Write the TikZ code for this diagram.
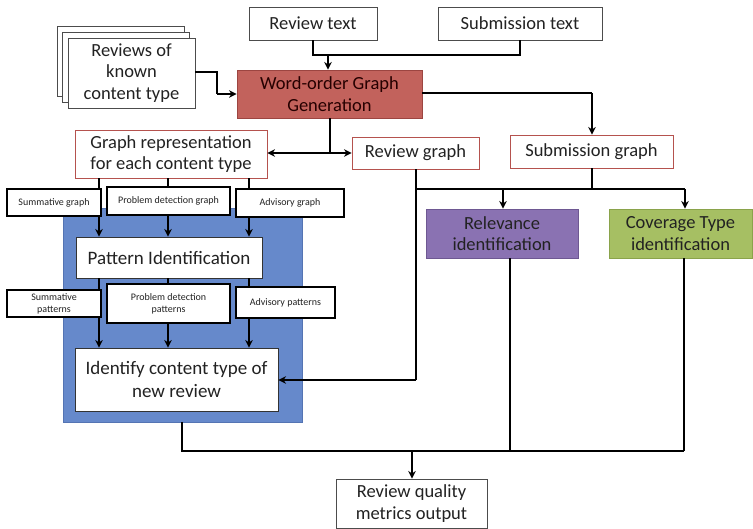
\documentclass[tikz,border=0pt]{standalone}
\usepackage{fontspec}
\setmainfont{Carlito}
\usetikzlibrary{arrows.meta}

\definecolor{wogfill}{HTML}{C2625C}
\definecolor{wogdraw}{HTML}{9C4541}
\definecolor{redline}{HTML}{B5524E}
\definecolor{relfill}{HTML}{8A72B2}
\definecolor{reldraw}{HTML}{6E5892}
\definecolor{covfill}{HTML}{A6BF63}
\definecolor{covdraw}{HTML}{8AA34B}
\definecolor{bluefill}{HTML}{6689CB}
\definecolor{bluedraw}{HTML}{5474B3}
\definecolor{inktext}{HTML}{222222}

\tikzset{
  box/.style={draw=black!70, line width=0.9pt, fill=white, align=center,
    inner sep=0pt, text=inktext, font=\fontsize{18.5}{21.5}\selectfont},
  redbox/.style={box, draw=redline},
  smallbox/.style={box, draw=black, line width=1.4pt,
    font=\fontsize{10}{12}\selectfont},
  conn/.style={line width=1.7pt, black},
  arr/.style={conn, -{Stealth[length=7.5pt,width=7.5pt]}},
  twoarr/.style={conn, {Stealth[length=7.5pt,width=7.5pt]}-{Stealth[length=7.5pt,width=7.5pt]}},
}

\begin{document}
\begin{tikzpicture}[x=1pt, y=-1pt]
\useasboundingbox (0,0) rectangle (753,529);

% shaded block holding the content-type steps
\fill[bluefill] (63,208) rectangle (302,422);
\draw[bluedraw, line width=0.6pt] (63,208) rectangle (302,422);
\coordinate (blueS) at (182,422);

% input texts
\node[box, minimum width=128pt, minimum height=33pt] (revtext) at (313,23.5) {Review text};
\node[box, minimum width=164pt, minimum height=33pt] (subtext) at (520,23.5) {Submission text};

% stacked pages of known reviews
\node[box, minimum width=127pt, minimum height=70pt] (rev3) at (120.5,61) {};
\node[box, minimum width=127pt, minimum height=70pt] (rev2) at (126,67) {};
\node[box, minimum width=127pt, minimum height=70pt] (reviews) at (131.5,73) {Reviews of\\known\\content type};

% graph generation
\node[box, draw=wogdraw, fill=wogfill, text=black!85!red, minimum width=185pt, minimum height=48pt] (wog) at (329.5,94) {Word-order Graph\\Generation};

\node[redbox, minimum width=192pt, minimum height=48pt] (graphrep) at (171,154) {Graph representation\\for each content type};
\node[redbox, minimum width=127pt, minimum height=32pt] (revgraph) at (415.5,153) {Review graph};
\node[redbox, minimum width=163pt, minimum height=33pt] (subgraph) at (591.5,151.5) {Submission graph};

\node[box, draw=reldraw, fill=relfill, minimum width=152pt, minimum height=49pt] (relev) at (502,233.5) {Relevance\\identification};
\node[box, draw=covdraw, fill=covfill, minimum width=143pt, minimum height=49pt] (cover) at (680.5,233.5) {Coverage Type\\identification};

\node[box, draw=black!80, minimum width=186pt, minimum height=41pt, font=\fontsize{19}{22}\selectfont] (pattern) at (169,257.5) {Pattern Identification};
\node[box, draw=black!80, minimum width=203pt, minimum height=63pt, font=\fontsize{19}{23}\selectfont] (identify) at (176.5,379.5) {Identify content type of\\new review};
\node[box, minimum width=151pt, minimum height=49pt] (quality) at (411.5,503.5) {Review quality\\metrics output};

% guide columns for the three content types
\coordinate (ca) at (99,0);
\coordinate (cb) at (168,0);
\coordinate (cc) at (249,0);

% content-type columns (drawn under the small boxes)
\foreach \c in {ca,cb,cc} {
  \draw[arr] (graphrep.south -| \c) -- (pattern.north -| \c);
  \draw[arr] (pattern.south -| \c) -- (identify.north -| \c);
}

\node[smallbox, minimum width=94pt, minimum height=27pt] (sumg) at (54,202.5) {Summative graph};
\node[smallbox, minimum width=123pt, minimum height=28pt] (probg) at (168.5,201) {Problem detection graph};
\node[smallbox, minimum width=108pt, minimum height=28pt] (advg) at (290,203) {Advisory graph};
\node[smallbox, minimum width=94pt, minimum height=27pt] (sump) at (54,303.5) {Summative\\patterns};
\node[smallbox, minimum width=123pt, minimum height=39pt] (probp) at (168.5,303.5) {Problem detection\\patterns};
\node[smallbox, minimum width=99pt, minimum height=31pt] (advp) at (285.5,302.5) {Advisory patterns};

% texts into graph generation
\coordinate (tj) at (313,55);
\coordinate (sj) at (520,55);
\coordinate (wj) at (328,55);
\draw[conn] (revtext.south -| tj) -- (tj) -- (sj) -- (subtext.south -| sj);
\draw[arr] (wj) -- (wog.north -| wj);

\coordinate (rk) at (217,72);
\draw[conn] (reviews.east |- rk) -- (rk) -- (rk |- wog.west);
\draw[arr] (rk |- wog.west) -- (wog.west);

% graph generation outputs
\coordinate (wd) at (330,153);
\draw[conn] (wog.south -| wd) -- (wd);
\draw[twoarr] (graphrep.east |- wd) -- (revgraph.west |- wd);
\coordinate (we) at (592,93);
\draw[conn] (wog.east |- we) -- (we);
\draw[arr] (we) -- (subgraph.north -| we);

% graph bus to the identification steps
\coordinate (bl) at (416,189);
\coordinate (bs) at (592,189);
\coordinate (br) at (503,189);
\coordinate (bc) at (685,189);
\draw[conn] (revgraph.south -| bl) -- (bl) -- (bc);
\draw[conn] (subgraph.south -| bs) -- (bs);
\draw[arr] (br) -- (relev.north -| br);
\draw[arr] (bc) -- (cover.north -| bc);

% review graph to content-type identification
\coordinate (rr) at (416,380);
\draw[conn] (bl) -- (rr);
\draw[arr] (rr) -- (identify.east |- rr);

% collection into the output
\coordinate (ol) at (182,451);
\coordinate (om) at (510,451);
\coordinate (oc) at (684,451);
\coordinate (oq) at (412,451);
\draw[conn] (blueS) -- (ol) -- (oc);
\draw[conn] (relev.south -| om) -- (om);
\draw[conn] (cover.south -| oc) -- (oc);
\draw[arr] (oq) -- (quality.north -| oq);
\end{tikzpicture}
\end{document}
